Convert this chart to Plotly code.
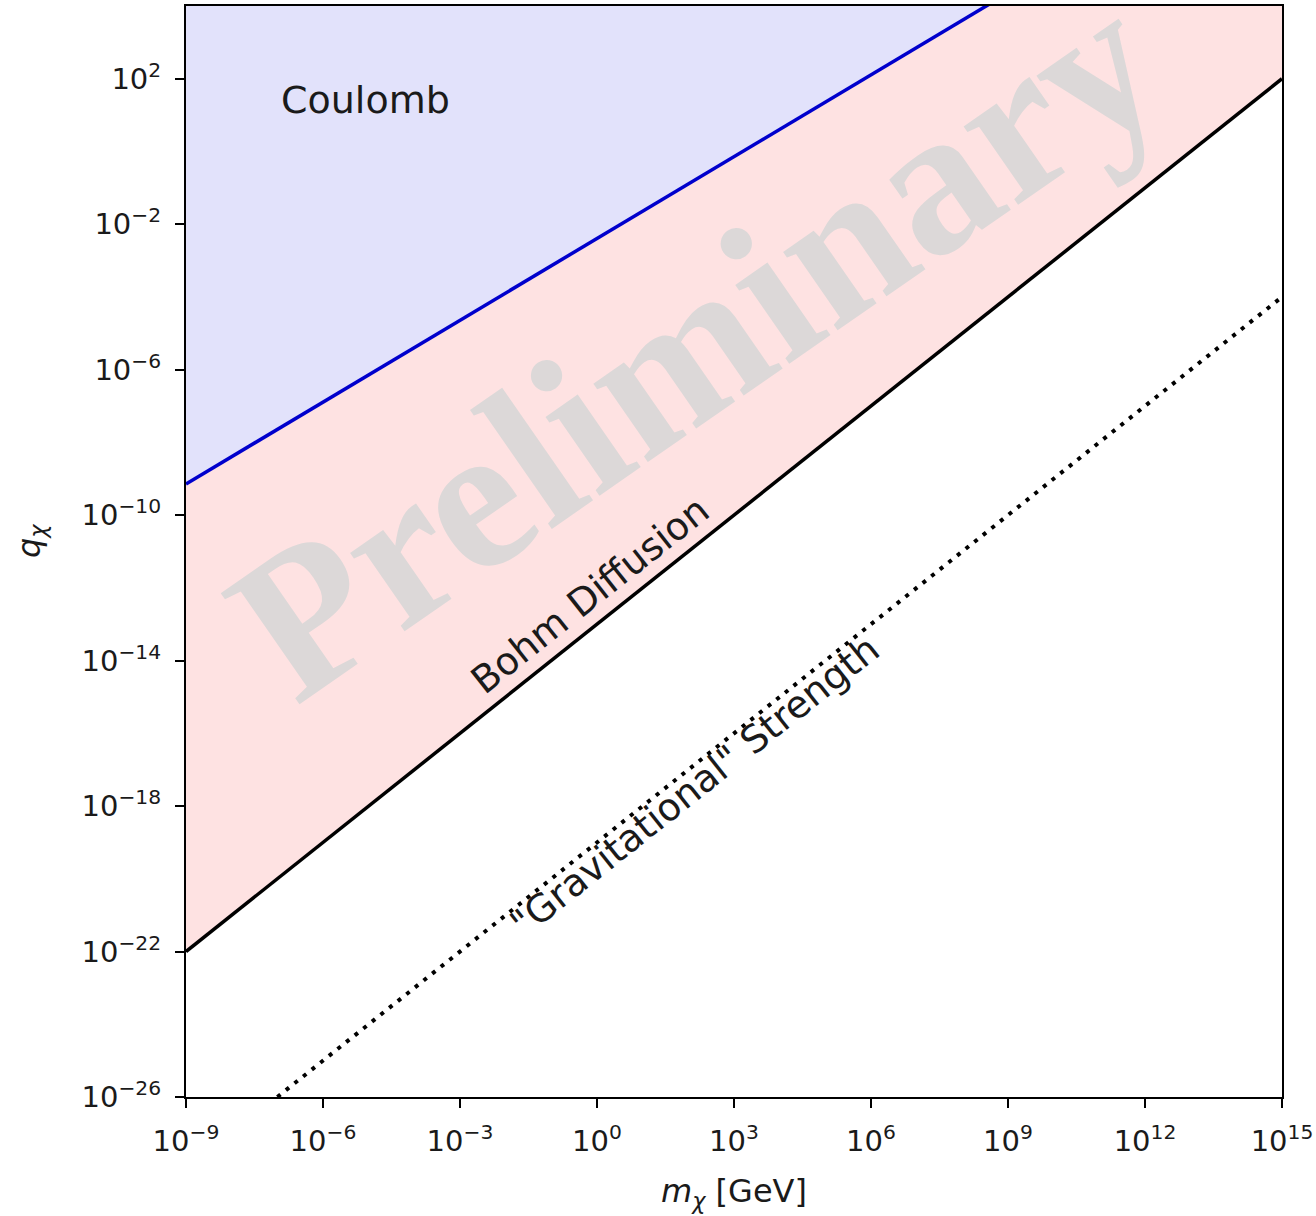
import plotly.graph_objects as go

# Mass range spanned by the exclusion lines [GeV]
mass = [1e-9, 1e15]
# Upper edge of the charge axis
q_top = [1e4, 1e4]
# Bohm diffusion bound on the charge
bohm_q = [1e-22, 1e2]
# Coulomb bound on the charge
coulomb_q = [7.2e-10, 7.2e8]
# "Gravitational" strength line
grav_mass = [1e-7, 1e15]
grav_q = [1e-26, 1e-4]

# Tick positions (log10) and labels
x_tick_exp = [-9, -6, -3, 0, 3, 6, 9, 12, 15]
y_tick_exp = [-26, -22, -18, -14, -10, -6, -2, 2]


def pow_label(e):
    s = str(e).replace("-", "\u2212")
    return f"10<sup>{s}</sup>"


PINK = "#fee2e2"
LAVENDER = "#e2e2fb"
FONT = "DejaVu Sans"
TEXT = "#1a1a1a"

fig = go.Figure()

# Pink region: above the Bohm diffusion line
fig.add_trace(go.Scatter(x=mass, y=q_top, mode="lines", line=dict(width=0),
                         hoverinfo="skip", showlegend=False))
fig.add_trace(go.Scatter(x=mass, y=bohm_q, mode="lines", fill="tonexty",
                         fillcolor=PINK, line=dict(color="black", width=3.5),
                         showlegend=False))

# Lavender region: above the Coulomb line
fig.add_trace(go.Scatter(x=mass, y=q_top, mode="lines", line=dict(width=0),
                         hoverinfo="skip", showlegend=False))
fig.add_trace(go.Scatter(x=mass, y=coulomb_q, mode="lines", fill="tonexty",
                         fillcolor=LAVENDER, line=dict(color="#0000cc", width=3.5),
                         showlegend=False))

# Dotted gravitational-strength line
fig.add_trace(go.Scatter(x=grav_mass, y=grav_q, mode="lines",
                         line=dict(color="black", width=4, dash="4px,7px"),
                         showlegend=False))

# Watermark
fig.add_annotation(x=2.15, y=-5.3, xref="x", yref="y", text="<b>Preliminary</b>",
                   showarrow=False, textangle=-34.8,
                   font=dict(family="Liberation Serif", size=208, color="#dcd8d8"))

# Region labels
fig.add_annotation(x=-5.08, y=1.42, xref="x", yref="y", text="Coulomb",
                   showarrow=False, font=dict(family=FONT, size=38, color=TEXT))
fig.add_annotation(x=-0.15, y=-12.2, xref="x", yref="y", text="Bohm Diffusion",
                   showarrow=False, textangle=-38.4,
                   font=dict(family=FONT, size=38, color=TEXT))
fig.add_annotation(x=2.15, y=-17.45, xref="x", yref="y",
                   text="\"Gravitational\" Strength",
                   showarrow=False, textangle=-38.5,
                   font=dict(family=FONT, size=38, color=TEXT))

# Axis titles
fig.add_annotation(x=0.5, y=-0.088, xref="paper", yref="paper",
                   xanchor="center", yanchor="middle",
                   text="<i>m</i><sub><i>\u03c7</i></sub> [GeV]", showarrow=False,
                   font=dict(family=FONT, size=32, color=TEXT))
fig.add_annotation(x=-0.142, y=0.51, xref="paper", yref="paper",
                   xanchor="center", yanchor="middle",
                   text="<i>q</i><sub><i>\u03c7</i></sub>", showarrow=False,
                   textangle=-90, font=dict(family=FONT, size=32, color=TEXT))

axis_common = dict(
    type="log",
    automargin=False,
    showgrid=False,
    zeroline=False,
    showline=True,
    linecolor="black",
    linewidth=2,
    mirror=True,
    ticks="outside",
    ticklen=9,
    tickwidth=2,
    tickcolor="black",
    tickfont=dict(family=FONT, size=29, color=TEXT),
)

fig.update_xaxes(
    **axis_common,
    range=[-9, 15],
    tickvals=[10 ** e for e in x_tick_exp],
    ticktext=[pow_label(e) for e in x_tick_exp],
    ticklabelstandoff=8,
)
fig.update_yaxes(
    **axis_common,
    range=[-26, 4],
    tickvals=[10 ** e for e in y_tick_exp],
    ticktext=[pow_label(e) for e in y_tick_exp],
    ticklabelstandoff=8,
)

fig.update_layout(
    width=1316,
    height=1216,
    margin=dict(l=186, r=34, t=6, b=119),
    paper_bgcolor="white",
    plot_bgcolor="white",
)

fig.write_html("out.html")
